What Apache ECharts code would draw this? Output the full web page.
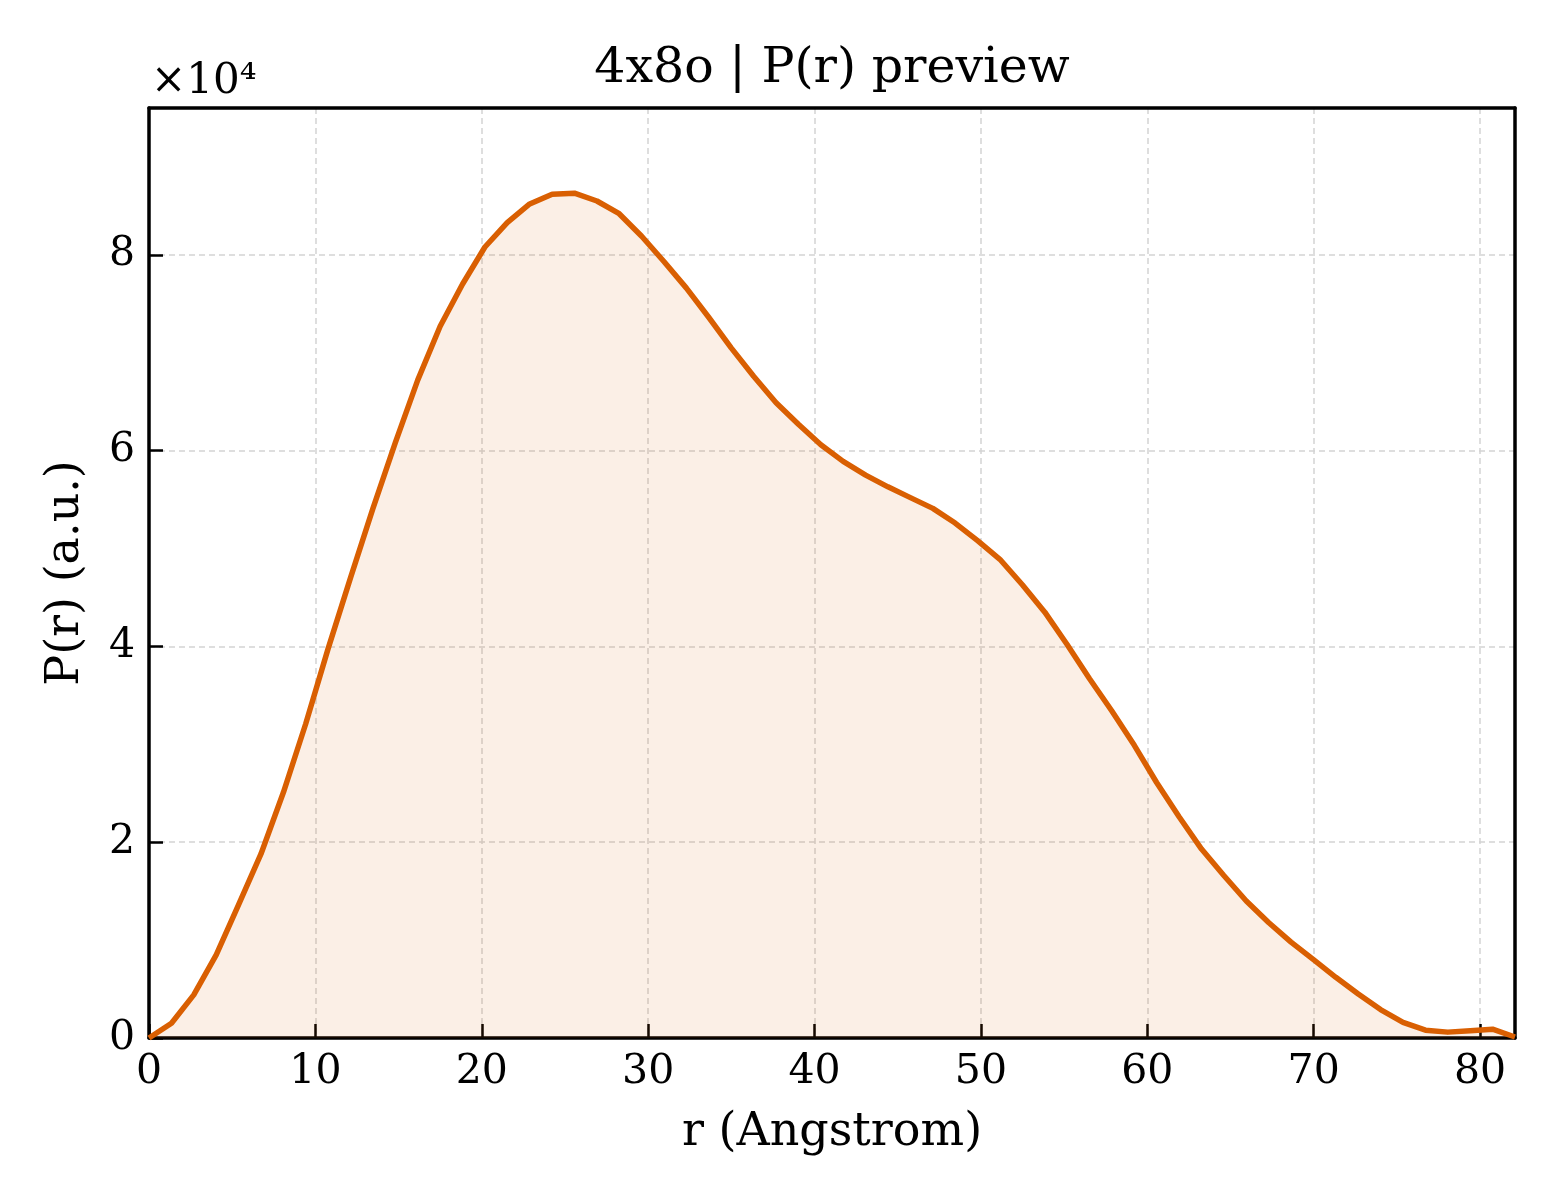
<!DOCTYPE html>
<html lang="en">
<head>
    <meta charset="UTF-8">
    <title>4x8o | P(r) preview</title>
    <script src="https://cdn.jsdelivr.net/npm/echarts@6.0.0/dist/echarts.min.js"></script>
    <style>
        html, body { margin: 0; padding: 0; background: #fff; }
        #chart { width: 1560px; height: 1200px; }
    </style>
</head>
<body>
    <div id="chart"></div>
    <script>
        // r grid (Angstrom)
        const rValues = [
            0, 1.35, 2.69, 4.04, 5.38, 6.73, 8.08, 9.42, 10.77, 12.11,
            13.46, 14.80, 16.15, 17.50, 18.84, 20.19, 21.53, 22.88, 24.23, 25.57,
            26.92, 28.26, 29.61, 30.96, 32.30, 33.65, 34.99, 36.34, 37.69, 39.03,
            40.38, 41.72, 43.07, 44.41, 45.76, 47.11, 48.45, 49.80, 51.14, 52.49,
            53.84, 55.18, 56.53, 57.87, 59.22, 60.56, 61.91, 63.26, 64.60, 65.95,
            67.29, 68.64, 69.99, 71.33, 72.68, 74.02, 75.37, 76.72, 78.06, 79.41,
            80.75, 82.10
        ];
        // P(r) values (a.u.)
        const pValues = [
            0, 1500, 4400, 8500, 13600, 18800, 25100, 32100, 39800, 47000,
            54100, 60800, 67200, 72700, 77000, 80800, 83300, 85200, 86200, 86300,
            85500, 84200, 81900, 79300, 76600, 73600, 70500, 67600, 64900, 62700,
            60600, 58900, 57500, 56300, 55200, 54100, 52600, 50800, 48900, 46300,
            43500, 40200, 36700, 33400, 29900, 26100, 22600, 19300, 16600, 14000,
            11800, 9800, 8000, 6200, 4500, 2900, 1600, 800, 600, 750,
            900, 100
        ];
        const xTicks = [0, 10, 20, 30, 40, 50, 60, 70, 80];
        const yTicks = [0, 2, 4, 6, 8];

        const lineColor = '#d95f02';
        const serif = 'DejaVu Serif';
        const gridLine = { show: true, lineStyle: { color: '#d4d4d4', width: 1.5, type: [6, 4] } };
        const frameLine = { show: true, onZero: false, lineStyle: { color: '#000', width: 3.5 } };
        const frameAxis = {
            type: 'value',
            axisLine: frameLine,
            axisTick: { show: false },
            axisLabel: { show: false },
            splitLine: { show: false }
        };

        const chart = echarts.init(document.getElementById('chart'));
        const option = {
            animation: false,
            backgroundColor: '#fff',
            textStyle: { fontFamily: serif },
            graphic: [
                {
                    type: 'text',
                    x: 832, y: 69,
                    style: { text: '4x8o | P(r) preview', fontFamily: serif, fontSize: 49, fill: '#000', align: 'center', verticalAlign: 'middle' }
                },
                {
                    type: 'text',
                    x: 151, y: 82,
                    style: { text: '×10⁴', fontFamily: serif, fontSize: 42, fill: '#000', align: 'left', verticalAlign: 'middle' }
                }
            ],
            grid: {
                left: 149, right: 45, top: 108, bottom: 162
            },
            xAxis: [
                {
                    type: 'value',
                    min: 0, max: 82.1, interval: 10,
                    name: 'r (Angstrom)',
                    nameLocation: 'middle', nameGap: 72,
                    nameTextStyle: { fontFamily: serif, fontSize: 46, color: '#000' },
                    axisLine: frameLine,
                    axisTick: { inside: true, length: 14, lineStyle: { color: '#000', width: 2.5 } },
                    axisLabel: {
                        color: '#000', fontFamily: serif, fontSize: 41, margin: 14,
                        showMaxLabel: false,
                        formatter: v => xTicks.includes(v) ? String(v) : ''
                    },
                    splitLine: gridLine
                },
                Object.assign({ position: 'top', min: 0, max: 82.1 }, frameAxis)
            ],
            yAxis: [
                {
                    type: 'value',
                    min: 0, max: 95000, interval: 20000,
                    name: 'P(r) (a.u.)',
                    nameLocation: 'middle', nameGap: 60,
                    nameTextStyle: { fontFamily: serif, fontSize: 46, color: '#000' },
                    axisLine: frameLine,
                    axisTick: { inside: true, length: 14, lineStyle: { color: '#000', width: 2.5 } },
                    axisLabel: {
                        color: '#000', fontFamily: serif, fontSize: 41, margin: 14,
                        showMaxLabel: false,
                        formatter: v => yTicks.includes(v / 10000) ? String(v / 10000) : ''
                    },
                    splitLine: gridLine
                },
                Object.assign({ position: 'right', min: 0, max: 95000 }, frameAxis)
            ],
            series: [
                {
                    type: 'line',
                    data: rValues.map((r, i) => [r, pValues[i]]),
                    showSymbol: false,
                    lineStyle: { color: lineColor, width: 5.5, join: 'round' },
                    areaStyle: { color: 'rgba(217,95,2,0.14)' },
                    z: 3
                }
            ]
        };
        chart.setOption(option);
    </script>
</body>
</html>
